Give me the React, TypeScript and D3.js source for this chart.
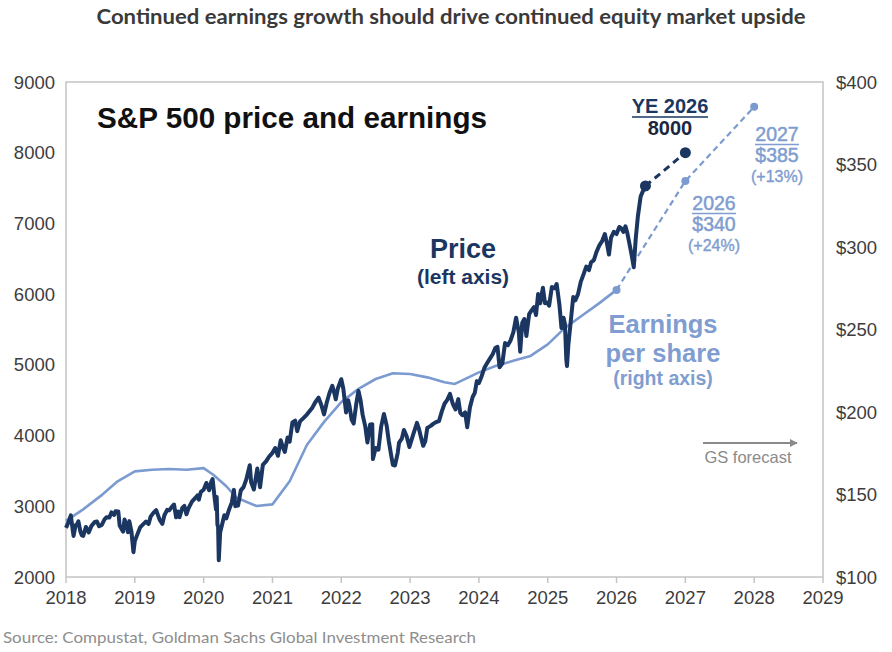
import * as d3 from "d3";

const WIDTH = 892;
const HEIGHT = 652;
const MARGIN = { top: 82, right: 69, bottom: 75, left: 66 };

const SANS = "'Liberation Sans', Arial, sans-serif";
const CAL = "Lato, 'Open Sans', sans-serif";

const NAVY = "#1a3661";
const LIGHT = "#7b9bd0";
const LIGHT_TXT = "#7f9dd0";
const AXIS_TXT = "#3d3d3d";
const FRAME = "#c4c4c4";

// axes
const YEAR_TICKS = [2018, 2019, 2020, 2021, 2022, 2023, 2024, 2025, 2026, 2027, 2028, 2029];
const LEFT_TICKS = [2000, 3000, 4000, 5000, 6000, 7000, 8000, 9000];
const RIGHT_TICKS = [100, 150, 200, 250, 300, 350, 400];

// S&P 500 level (left axis), [year, level]
const PRICE: [number, number][] = [
  [2018.0, 2695], [2018.04, 2786], [2018.07, 2872], [2018.1, 2648], [2018.11, 2581], [2018.14, 2732],
  [2018.16, 2744], [2018.18, 2786], [2018.21, 2640], [2018.23, 2588], [2018.25, 2582], [2018.29, 2708],
  [2018.33, 2630], [2018.37, 2723], [2018.42, 2779], [2018.45, 2786], [2018.48, 2717], [2018.52, 2736],
  [2018.56, 2815], [2018.59, 2846], [2018.63, 2840], [2018.66, 2914], [2018.7, 2878], [2018.72, 2931],
  [2018.76, 2926], [2018.78, 2728], [2018.82, 2656], [2018.83, 2641], [2018.85, 2814], [2018.89, 2690],
  [2018.9, 2633], [2018.92, 2790], [2018.95, 2650], [2018.98, 2351], [2019.0, 2510],
  [2019.04, 2610], [2019.08, 2706], [2019.12, 2745], [2019.16, 2784], [2019.2, 2749], [2019.23, 2854],
  [2019.27, 2907], [2019.31, 2946], [2019.36, 2812], [2019.4, 2752], [2019.43, 2873], [2019.47, 2950],
  [2019.5, 2942], [2019.54, 2995], [2019.57, 3025], [2019.6, 2844], [2019.63, 2926], [2019.65, 2847],
  [2019.69, 2978], [2019.72, 3006], [2019.75, 2887], [2019.78, 2970], [2019.83, 3066], [2019.88, 3120],
  [2019.91, 3153], [2019.93, 3093], [2019.96, 3205], [2020.0, 3234],
  [2020.04, 3330], [2020.08, 3226], [2020.11, 3345], [2020.13, 3386], [2020.16, 3116], [2020.18, 2954],
  [2020.19, 3130], [2020.2, 2741], [2020.21, 2711], [2020.22, 2237], [2020.24, 2630], [2020.27, 2750],
  [2020.3, 2874], [2020.33, 2830], [2020.37, 2955], [2020.41, 3055], [2020.44, 3232], [2020.46, 3002],
  [2020.5, 3009], [2020.54, 3225], [2020.58, 3271], [2020.62, 3380], [2020.67, 3580], [2020.69, 3340],
  [2020.73, 3237], [2020.78, 3534], [2020.82, 3270], [2020.86, 3585], [2020.91, 3638], [2020.95, 3700],
  [2021.0, 3756], [2021.04, 3824], [2021.08, 3714], [2021.12, 3934], [2021.16, 3811], [2021.18, 3768],
  [2021.22, 3974], [2021.25, 3913], [2021.29, 4185], [2021.33, 4211], [2021.36, 4063], [2021.4, 4200],
  [2021.45, 4247], [2021.5, 4297], [2021.55, 4358], [2021.58, 4395], [2021.62, 4468], [2021.67, 4537],
  [2021.71, 4432], [2021.75, 4300], [2021.79, 4471], [2021.83, 4605], [2021.87, 4704], [2021.9, 4595],
  [2021.92, 4513], [2021.95, 4668], [2022.0, 4797],
  [2022.03, 4662], [2022.07, 4326], [2022.1, 4500], [2022.12, 4418], [2022.15, 4225], [2022.18, 4170],
  [2022.22, 4463], [2022.25, 4632], [2022.28, 4500], [2022.31, 4296], [2022.35, 4123], [2022.38, 3901],
  [2022.42, 4158], [2022.45, 4160], [2022.46, 3667], [2022.5, 3825], [2022.54, 3800], [2022.58, 4130],
  [2022.62, 4305], [2022.66, 4140], [2022.69, 3925], [2022.73, 3693], [2022.75, 3586], [2022.78, 3577],
  [2022.82, 3752], [2022.84, 3901], [2022.88, 3957], [2022.91, 4080], [2022.95, 3990], [2022.99, 3839],
  [2023.04, 3999], [2023.08, 4119], [2023.1, 4179], [2023.13, 4090], [2023.16, 3970], [2023.19, 3855],
  [2023.22, 3916], [2023.25, 4109], [2023.3, 4137], [2023.34, 4169], [2023.38, 4192], [2023.42, 4205],
  [2023.46, 4338], [2023.5, 4450], [2023.54, 4505], [2023.58, 4589], [2023.62, 4450], [2023.66, 4370],
  [2023.7, 4515], [2023.73, 4320], [2023.76, 4288], [2023.8, 4327], [2023.83, 4117], [2023.87, 4400],
  [2023.91, 4550], [2023.94, 4604], [2023.97, 4770], [2024.0, 4742],
  [2024.04, 4840], [2024.08, 4958], [2024.12, 5026], [2024.16, 5088], [2024.2, 5150], [2024.24, 5241],
  [2024.27, 5254], [2024.3, 4967], [2024.34, 5018], [2024.38, 5308], [2024.42, 5278], [2024.46, 5346],
  [2024.5, 5460], [2024.54, 5667], [2024.58, 5459], [2024.6, 5186], [2024.63, 5597], [2024.66, 5648],
  [2024.69, 5408], [2024.73, 5718], [2024.76, 5762], [2024.8, 5815], [2024.83, 5705], [2024.86, 6001],
  [2024.89, 5870], [2024.93, 6090], [2024.96, 5872], [2024.99, 5882],
  [2025.02, 5836], [2025.06, 6101], [2025.1, 6083], [2025.13, 6144], [2025.17, 5850], [2025.2, 5521],
  [2025.23, 5667], [2025.25, 5580], [2025.27, 5074], [2025.28, 4982], [2025.3, 5282], [2025.33, 5569],
  [2025.37, 5958], [2025.4, 5912], [2025.44, 6000], [2025.48, 6173], [2025.52, 6280], [2025.56, 6390],
  [2025.6, 6340], [2025.63, 6450], [2025.67, 6480], [2025.71, 6600], [2025.75, 6690], [2025.79, 6750],
  [2025.83, 6850], [2025.86, 6720], [2025.89, 6560], [2025.92, 6800], [2025.96, 6880], [2026.0, 6850],
  [2026.04, 6950], [2026.07, 6930], [2026.1, 6880], [2026.13, 6960], [2026.16, 6850], [2026.19, 6700],
  [2026.22, 6550], [2026.25, 6380], [2026.28, 6800], [2026.31, 7100], [2026.35, 7380], [2026.38, 7450],
  [2026.42, 7530],
];

// EPS (right axis), [year, $]
const EPS: [number, number][] = [
  [2018.0, 134], [2018.25, 141], [2018.5, 149], [2018.75, 158], [2019.0, 164], [2019.25, 165],
  [2019.5, 165.5], [2019.75, 165], [2020.0, 166], [2020.14, 162], [2020.33, 155], [2020.48, 148],
  [2020.77, 143], [2021.0, 144], [2021.25, 158], [2021.5, 180], [2021.75, 194], [2022.0, 206],
  [2022.25, 214], [2022.5, 220], [2022.75, 223.5], [2023.0, 223], [2023.25, 221], [2023.5, 218],
  [2023.65, 217], [2023.75, 219], [2024.0, 224], [2024.25, 228], [2024.5, 231], [2024.75, 234],
  [2025.0, 241], [2025.25, 251], [2025.5, 258.5], [2025.75, 266], [2026.0, 274],
];

// GS forecasts
const PRICE_FORECAST: [number, number][] = [[2026.42, 7530], [2027.0, 8000]];
const EPS_FORECAST: [number, number][] = [[2026.0, 274], [2027.0, 340], [2028.0, 385]];

export default function App() {
  const x0 = MARGIN.left;
  const x1 = WIDTH - MARGIN.right;
  const y0 = MARGIN.top;
  const y1 = HEIGHT - MARGIN.bottom;

  const x = d3.scaleLinear().domain([2018, 2029]).range([x0, x1]);
  const yL = d3.scaleLinear().domain([2000, 9000]).range([y1, y0]);
  const yR = d3.scaleLinear().domain([100, 400]).range([y1, y0]);

  const priceLine = d3.line<[number, number]>().x((d) => x(d[0])).y((d) => yL(d[1]));
  const epsLine = d3.line<[number, number]>().x((d) => x(d[0])).y((d) => yR(d[1]));

  return (
    <svg width={WIDTH} height={HEIGHT} style={{ display: "block", background: "#fff" }}>
      <style>{`body{margin:0}`}</style>

      <text x={451} y={24} textAnchor="middle" fontFamily={CAL} fontWeight={700} fontSize={20}
        fill="#3a3a3a" textLength={709} lengthAdjust="spacingAndGlyphs">
        Continued earnings growth should drive continued equity market upside
      </text>

      {/* frame */}
      <rect x={x0} y={y0} width={x1 - x0} height={y1 - y0} fill="none" stroke={FRAME} strokeWidth={1.5} />
      {YEAR_TICKS.map((t) => (
        <g key={t}>
          <line x1={x(t)} x2={x(t)} y1={y1} y2={y1 + 6} stroke={FRAME} strokeWidth={1.5} />
          <text x={x(t)} y={y1 + 27} textAnchor="middle" fontFamily={SANS} fontSize={18.5} fill={AXIS_TXT}>{t}</text>
        </g>
      ))}
      {LEFT_TICKS.map((t) => (
        <text key={t} x={55} y={yL(t) + 6.5} textAnchor="end" fontFamily={SANS} fontSize={18.5} fill={AXIS_TXT}>{t}</text>
      ))}
      {RIGHT_TICKS.map((t) => (
        <text key={t} x={836} y={yR(t) + 6.5} fontFamily={SANS} fontSize={18.5} fill={AXIS_TXT}>${t}</text>
      ))}

      {/* series */}
      <path d={epsLine(EPS) ?? ""} fill="none" stroke={LIGHT} strokeWidth={2.6} strokeLinejoin="round" />
      <path d={epsLine(EPS_FORECAST) ?? ""} fill="none" stroke={LIGHT} strokeWidth={2.2} strokeDasharray="6,4" />
      {EPS_FORECAST.map((d) => (
        <circle key={d[0]} cx={x(d[0])} cy={yR(d[1])} r={4} fill={LIGHT} />
      ))}

      <path d={priceLine(PRICE) ?? ""} fill="none" stroke={NAVY} strokeWidth={4} strokeLinejoin="round" />
      <path d={priceLine(PRICE_FORECAST) ?? ""} fill="none" stroke={NAVY} strokeWidth={3} strokeDasharray="7,5" />
      {PRICE_FORECAST.map((d) => (
        <circle key={d[0]} cx={x(d[0])} cy={yL(d[1])} r={5.5} fill={NAVY} />
      ))}

      {/* annotations */}
      <text x={97} y={128} fontFamily={SANS} fontWeight={700} fontSize={29} fill="#111" textLength={390} lengthAdjust="spacingAndGlyphs">
        S&amp;P 500 price and earnings
      </text>

      <text x={670} y={113} textAnchor="middle" fontFamily={SANS} fontWeight={700} fontSize={20} fill={NAVY}>YE 2026</text>
      <line x1={632} x2={708} y1={117} y2={117} stroke={NAVY} strokeWidth={1.5} />
      <text x={670} y={135} textAnchor="middle" fontFamily={SANS} fontWeight={700} fontSize={20} fill="#1b2640">8000</text>

      <text x={777} y={141} textAnchor="middle" fontFamily={SANS} fontSize={19.5} fill={LIGHT_TXT} stroke={LIGHT_TXT} strokeWidth={0.5}>2027</text>
      <line x1={755} x2={799} y1={144.5} y2={144.5} stroke={LIGHT_TXT} strokeWidth={1.5} />
      <text x={777} y={162} textAnchor="middle" fontFamily={SANS} fontSize={19.5} fill={LIGHT_TXT} stroke={LIGHT_TXT} strokeWidth={0.5}>$385</text>
      <text x={777} y={182} textAnchor="middle" fontFamily={SANS} fontSize={16} fill={LIGHT_TXT} stroke={LIGHT_TXT} strokeWidth={0.4}>(+13%)</text>

      <text x={714} y={210} textAnchor="middle" fontFamily={SANS} fontSize={19.5} fill={LIGHT_TXT} stroke={LIGHT_TXT} strokeWidth={0.5}>2026</text>
      <line x1={692} x2={736} y1={213.5} y2={213.5} stroke={LIGHT_TXT} strokeWidth={1.5} />
      <text x={714} y={231} textAnchor="middle" fontFamily={SANS} fontSize={19.5} fill={LIGHT_TXT} stroke={LIGHT_TXT} strokeWidth={0.5}>$340</text>
      <text x={714} y={251} textAnchor="middle" fontFamily={SANS} fontSize={16} fill={LIGHT_TXT} stroke={LIGHT_TXT} strokeWidth={0.4}>(+24%)</text>

      <text x={463} y={258} textAnchor="middle" fontFamily={SANS} fontWeight={700} fontSize={27} fill={NAVY}>Price</text>
      <text x={463} y={284} textAnchor="middle" fontFamily={SANS} fontWeight={700} fontSize={21} fill={NAVY}>(left axis)</text>

      <text x={663} y={333} textAnchor="middle" fontFamily={SANS} fontWeight={700} fontSize={25.5} fill={LIGHT_TXT}>Earnings</text>
      <text x={663} y={362} textAnchor="middle" fontFamily={SANS} fontWeight={700} fontSize={25.5} fill={LIGHT_TXT}>per share</text>
      <text x={663} y={385} textAnchor="middle" fontFamily={SANS} fontWeight={700} fontSize={19.5} fill={LIGHT_TXT}>(right axis)</text>

      <defs>
        <marker id="arr" viewBox="0 0 10 10" refX={9} refY={5} markerWidth={4} markerHeight={4} orient="auto">
          <path d="M0,0L10,5L0,10z" fill="#8a8a8a" />
        </marker>
      </defs>
      <line x1={703} x2={797} y1={443} y2={443} stroke="#8a8a8a" strokeWidth={2} markerEnd="url(#arr)" />
      <text x={748} y={463} textAnchor="middle" fontFamily={SANS} fontSize={16.5} fill="#8a8a8a">GS forecast</text>

      <text x={3} y={643} fontFamily={CAL} fontSize={16} fill="#8e8e8e" textLength={473} lengthAdjust="spacingAndGlyphs">
        Source: Compustat, Goldman Sachs Global Investment Research
      </text>
    </svg>
  );
}
